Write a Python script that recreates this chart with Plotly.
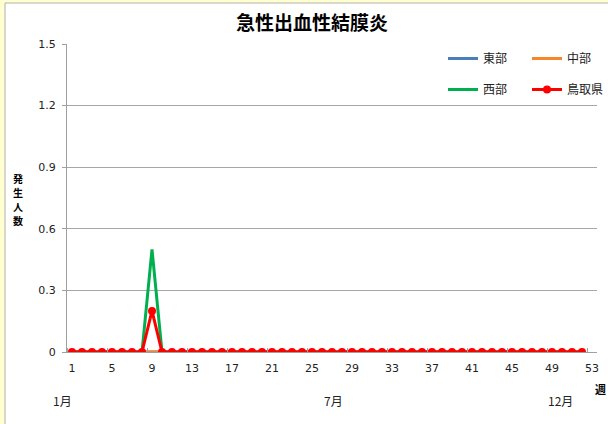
import plotly.graph_objects as go

weeks = list(range(1, 53))
east = [0] * 52
central = [0] * 52
west = [0, 0, 0, 0, 0, 0, 0, 0, 0.5] + [0] * 43
tottori = [0, 0, 0, 0, 0, 0, 0, 0, 0.2] + [0] * 43

x_tick_vals = [1, 5, 9, 13, 17, 21, 25, 29, 33, 37, 41, 45, 49, 53]
y_tick_vals = [0, 0.3, 0.6, 0.9, 1.2, 1.5]
y_tick_text = ["0", "0.3", "0.6", "0.9", "1.2", "1.5"]
months = ["1月", "7月", "12月"]
month_px = [62, 333, 560]
ylabel_chars = ["発", "生", "人", "数"]

jp = "Noto Sans CJK JP"
num = "DejaVu Sans"

L, R, T, B = 67, 11, 44, 72
W, H = 608 - L - R, 424 - T - B


def px(x):
    return (x - L) / W


def py(y):
    return (424 - B - y) / H


fig = go.Figure()
fig.add_trace(go.Scatter(x=weeks, y=east, name="東部", mode="lines",
                         line=dict(color="#4A7EBB", width=3), legend="legend"))
fig.add_trace(go.Scatter(x=weeks, y=central, name="中部", mode="lines",
                         line=dict(color="#F7862B", width=3), legend="legend"))
fig.add_trace(go.Scatter(x=weeks, y=west, name="西部", mode="lines",
                         line=dict(color="#00B050", width=3), legend="legend2"))
fig.add_trace(go.Scatter(x=weeks, y=tottori, name="鳥取県", mode="lines+markers",
                         line=dict(color="#FF0000", width=3),
                         marker=dict(color="#FF0000", size=8), legend="legend2"))

# page frame: light yellow edge with grey border
fig.add_shape(type="rect", xref="paper", yref="paper",
              x0=px(5), x1=px(614), y0=py(430), y1=py(3),
              fillcolor="white", line=dict(color="#B0B0B0", width=1), layer="below")

for m, p in zip(months, month_px):
    fig.add_annotation(x=px(p), xref="paper", y=py(400), yref="paper", text=m, showarrow=False,
                       xanchor="center", yanchor="middle",
                       font=dict(family=jp, size=12, color="#222"))
fig.add_annotation(x=px(593), xref="paper", y=py(389), yref="paper", text="<b>週</b>",
                   showarrow=False, xanchor="left", yanchor="middle",
                   font=dict(family=jp, size=11, color="black"))
for i, ch in enumerate(ylabel_chars):
    fig.add_annotation(x=px(18), xref="paper", y=py(178 + 14.3 * i), yref="paper",
                       text="<b>%s</b>" % ch, showarrow=False, xanchor="center",
                       yanchor="middle", borderpad=0,
                       font=dict(family=jp, size=10, color="black"))

leg = dict(orientation="h", font=dict(family=jp, size=12, color="#222"),
           bgcolor="rgba(0,0,0,0)", itemwidth=30, entrywidth=39, entrywidthmode="pixels",
           xanchor="left", yanchor="top", tracegroupgap=0, traceorder="normal")

fig.update_layout(
    width=608, height=424,
    margin=dict(l=L, r=R, t=T, b=B, autoexpand=False),
    paper_bgcolor="#FFFFD0",
    plot_bgcolor="white",
    showlegend=True,
    title=dict(text="<b>急性出血性結膜炎</b>", x=px(312), xref="paper", xanchor="center",
               y=1 - 23 / 424, yanchor="middle", font=dict(family=jp, size=19, color="black")),
    legend=dict(leg, x=px(443), y=py(44)),
    legend2=dict(leg, x=px(443), y=py(75)),
    xaxis=dict(range=[0.5, 53.5], tickvals=x_tick_vals, ticks="", showgrid=False,
               showline=True, linecolor="#A0A0A0", linewidth=1, zeroline=False,
               tickfont=dict(family=num, size=11, color="#222"), ticklabelstandoff=6,
               minor=dict(tick0=0.5, dtick=4, ticks="inside", ticklen=4, tickcolor="#A0A0A0",
                          showgrid=False)),
    yaxis=dict(range=[0, 1.5], tickvals=y_tick_vals, ticktext=y_tick_text,
               showgrid=True, gridcolor="#A6A6A6", gridwidth=1,
               showline=True, linecolor="#A0A0A0", linewidth=1, zeroline=False,
               ticks="outside", ticklen=4, tickcolor="#A0A0A0",
               tickfont=dict(family=num, size=11, color="#222"), ticklabelstandoff=4),
)

fig.write_html("out.html", config={"displayModeBar": False},
               post_script="document.body.style.margin='0';")
